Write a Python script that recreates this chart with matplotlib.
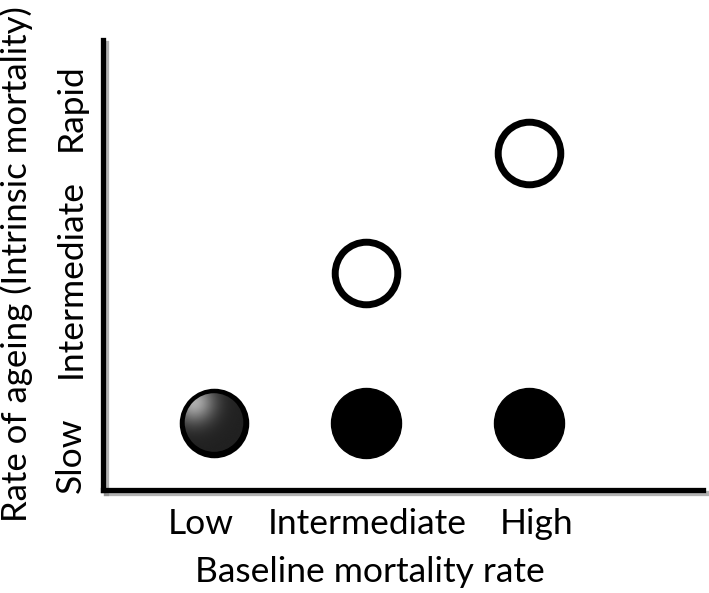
import matplotlib.pyplot as plt
import matplotlib.patheffects as pe
from matplotlib.patches import Circle
import numpy as np

plt.rcParams['font.family'] = ['Lato', 'DejaVu Sans']

# category positions (axis units)
x_tick_pos = [0.65, 1.76, 2.89]
x_tick_labels = ['Low', 'Intermediate', 'High']
y_tick_pos = [0.23, 1.41, 2.55]
y_tick_labels = ['Slow', 'Intermediate', 'Rapid']

# points: baseline mortality (x) vs rate of ageing (y)
filled_x = [1.75, 2.84]
filled_y = [0.45, 0.45]
open_x = [1.75, 2.84]
open_y = [1.45, 2.25]
shaded_x = [0.74]
shaded_y = [0.45]

fig = plt.figure(figsize=(7.09, 5.93), dpi=100)
ax = fig.add_axes([103 / 709, (593 - 490) / 593, 600 / 709, 450 / 593])
ax.set_xlim(0, 4)
ax.set_ylim(0, 3)

shadow = [pe.SimpleLineShadow(offset=(2, -2), shadow_color='grey', alpha=0.6), pe.Normal()]
for side in ['top', 'right']:
    ax.spines[side].set_visible(False)
for side in ['left', 'bottom']:
    ax.spines[side].set_linewidth(3.8)
    ax.spines[side].set_path_effects(shadow)

ax.scatter(filled_x, filled_y, s=2540, color='black', zorder=3)
ax.scatter(open_x, open_y, s=2030, facecolor='white', edgecolor='black', linewidth=5, zorder=3)

# shaded sphere-like marker
for cx, cy in zip(shaded_x, shaded_y):
    r = 0.21
    ax.scatter([cx], [cy], s=2030, facecolor='#1e1e1e', edgecolor='black', linewidth=5, zorder=3)
    gx, gy = np.meshgrid(np.linspace(-1, 1, 200), np.linspace(-1, 1, 200))
    d = np.sqrt((gx + 0.65) ** 2 + (gy - 0.65) ** 2)
    val = np.clip(0.13 + 0.55 * np.exp(-(d / 0.65) ** 2), 0, 1)
    im = ax.imshow(val, cmap='gray', vmin=0, vmax=1, origin='lower',
                   extent=[cx - r, cx + r, cy - r, cy + r], zorder=4, interpolation='bilinear')
    clip = Circle((cx, cy), r * 0.93, transform=ax.transData)
    im.set_clip_path(clip)
ax.set_aspect('auto')
ax.set_xlim(0, 4)
ax.set_ylim(0, 3)

ax.set_xticks(x_tick_pos)
ax.set_xticklabels(x_tick_labels, fontsize=25.5)
ax.set_yticks(y_tick_pos)
ax.set_yticklabels(y_tick_labels, fontsize=25.5, rotation=90, va='center')
ax.tick_params(length=0)
ax.tick_params(axis='x', pad=13)
ax.tick_params(axis='y', pad=12)

ax.set_xlabel('Baseline mortality rate', fontsize=25.5)
ax.xaxis.set_label_coords((370 - 103) / 600, (490 - 556) / 450)
ax.set_ylabel('Rate of ageing (Intrinsic mortality)', fontsize=25)
ax.yaxis.set_label_coords(-70 / 600, (490 - 264) / 450)

fig.savefig('out.png', dpi=100)
